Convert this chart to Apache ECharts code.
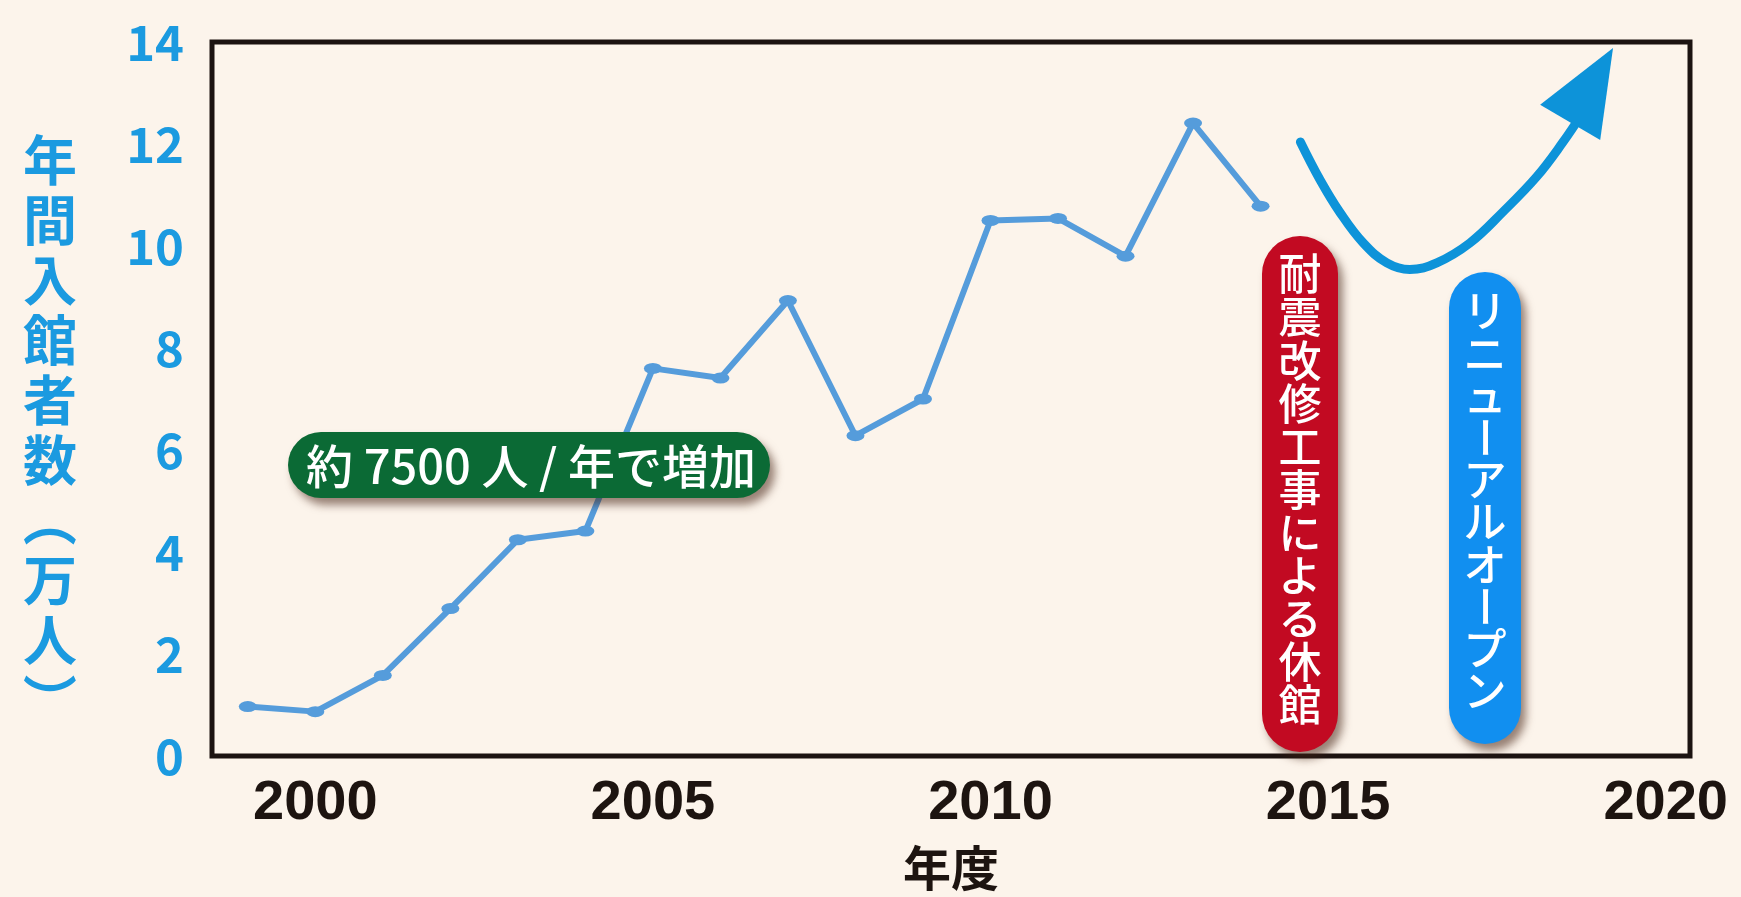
<!DOCTYPE html>
<html>
<head>
<meta charset="utf-8">
<script src="https://cdn.jsdelivr.net/npm/echarts@6/dist/echarts.min.js"></script>
<style>
html,body{margin:0;padding:0;background:#fcf4eb;}
#c{width:1741px;height:897px;}
</style>
</head>
<body>
<div id="c"></div>
<script>
// ---- data ----
const years = [1999, 2000, 2001, 2002, 2003, 2004, 2005, 2006, 2007, 2008, 2009, 2010, 2011, 2012, 2013, 2014];
const visitors = [0.97, 0.87, 1.58, 2.89, 4.24, 4.41, 7.60, 7.41, 8.93, 6.28, 7.00, 10.50, 10.54, 9.80, 12.41, 10.78];
const xTickValues = [2000, 2005, 2010, 2015, 2020];
const yMin = 0, yMax = 14, yStep = 2;
const xMin = 1998.47, xMax = 2020.36;
// renewal arrow (schematic curve)
const arrowCurveX = [2014.59, 2014.88, 2015.18, 2015.52, 2015.87, 2016.21, 2016.61, 2017.10, 2017.59, 2018.09, 2018.47, 2018.77];
const arrowCurveY = [12.04, 11.30, 10.65, 10.06, 9.67, 9.54, 9.67, 10.06, 10.67, 11.36, 12.02, 12.61];
const arrowHeadX = [2018.14, 2019.22, 2019.03];
const arrowHeadY = [12.77, 13.88, 12.08];
// texts
const yAxisTitle = '年間入館者数（万人）';
const xAxisTitle = '年度';
const noteGrowth = '約 7500 人 / 年で増加';
const noteClosed = '耐震改修工事による休館';
const noteReopen = 'リニューアルオープン';

const LINE_BLUE = '#559cdb';
const ARROW_BLUE = '#0d93d9';
const AXIS_BLUE = '#1b9ae0';
const JP = '"Noto Sans CJK JP", "Noto Sans", sans-serif';

function verticalText(str, cx, y0, step, style) {
  const out = [];
  Array.from(str).forEach((ch, i) => {
    let rot = 0;
    if (ch === '（' || ch === '）' || ch === 'ー') rot = -Math.PI / 2;
    out.push({
      type: 'text', x: cx, y: y0 + i * step, rotation: rot, z: 20,
      style: Object.assign({ text: ch, align: 'center', verticalAlign: 'middle' }, style)
    });
  });
  return out;
}

const shadow = { shadowBlur: 8, shadowOffsetX: 5, shadowOffsetY: 7, shadowColor: 'rgba(70,35,20,0.55)' };

const chart = echarts.init(document.getElementById('c'));
chart.setOption({
  backgroundColor: '#fcf4eb',
  animation: false,
  grid: { left: 212, right: 51, top: 42, bottom: 140, show: true, borderColor: '#1c1311', borderWidth: 5, backgroundColor: 'transparent' },
  xAxis: {
    type: 'value', min: xMin, max: xMax,
    splitLine: { show: false }, axisLine: { show: false }, axisTick: { show: false },
    axisLabel: { customValues: xTickValues, formatter: v => String(v), fontSize: 56, color: '#1d1410', fontFamily: '"Liberation Sans", Arial, sans-serif', fontWeight: 'bold', margin: 20 },
    name: xAxisTitle, nameLocation: 'middle', nameGap: 88,
    nameTextStyle: { fontSize: 48, fontWeight: 'bold', color: '#1d1410', fontFamily: JP }
  },
  yAxis: {
    type: 'value', min: yMin, max: yMax, interval: yStep,
    splitLine: { show: false }, axisLine: { show: false }, axisTick: { show: false },
    axisLabel: { fontSize: 49, color: AXIS_BLUE, fontFamily: JP, fontWeight: 'bold', margin: 28 }
  },
  series: [
    {
      type: 'line', data: years.map((y, i) => [y, visitors[i]]),
      lineStyle: { color: LINE_BLUE, width: 6 },
      itemStyle: { color: LINE_BLUE },
      symbol: 'circle', symbolSize: [18, 11], z: 3
    },
    {
      type: 'line', data: arrowCurveX.map((x, i) => [x, arrowCurveY[i]]),
      smooth: 0.4, symbol: 'none',
      lineStyle: { color: ARROW_BLUE, width: 9, cap: 'round' }, z: 4
    },
    {
      type: 'custom', clip: false, z: 5,
      data: [[arrowHeadX[1], arrowHeadY[1]]],
      renderItem: (params, api) => ({
        type: 'polygon',
        shape: { points: arrowHeadX.map((x, i) => api.coord([x, arrowHeadY[i]])) },
        style: { fill: ARROW_BLUE }
      })
    }
  ],
  graphic: [
    // y axis title
    ...verticalText(yAxisTitle, 50, 160, 60, { fontSize: 54, fontWeight: 'bold', fill: AXIS_BLUE, fontFamily: JP }),
    // green note
    { type: 'rect', shape: { x: 288, y: 432, width: 482, height: 66, r: 33 }, style: Object.assign({ fill: '#0b6a35' }, shadow), z: 10 },
    { type: 'text', x: 531, y: 466, z: 11, style: { text: noteGrowth, align: 'center', verticalAlign: 'middle', fontSize: 47, fontWeight: 500, fill: '#ffffff', fontFamily: JP } },
    // red note
    { type: 'rect', shape: { x: 1262, y: 236, width: 76, height: 516, r: 38 }, style: Object.assign({ fill: '#c20a22' }, shadow), z: 10 },
    ...verticalText(noteClosed, 1300, 274, 43.1, { fontSize: 43, fontWeight: 500, fill: '#ffffff', fontFamily: JP }),
    // blue note
    { type: 'rect', shape: { x: 1449, y: 272, width: 72, height: 472, r: 36 }, style: Object.assign({ fill: '#118ff0' }, shadow), z: 10 },
    ...verticalText(noteReopen, 1485, 311, 42.2, { fontSize: 43, fontWeight: 500, fill: '#ffffff', fontFamily: JP })
  ]
});
</script>
</body>
</html>
